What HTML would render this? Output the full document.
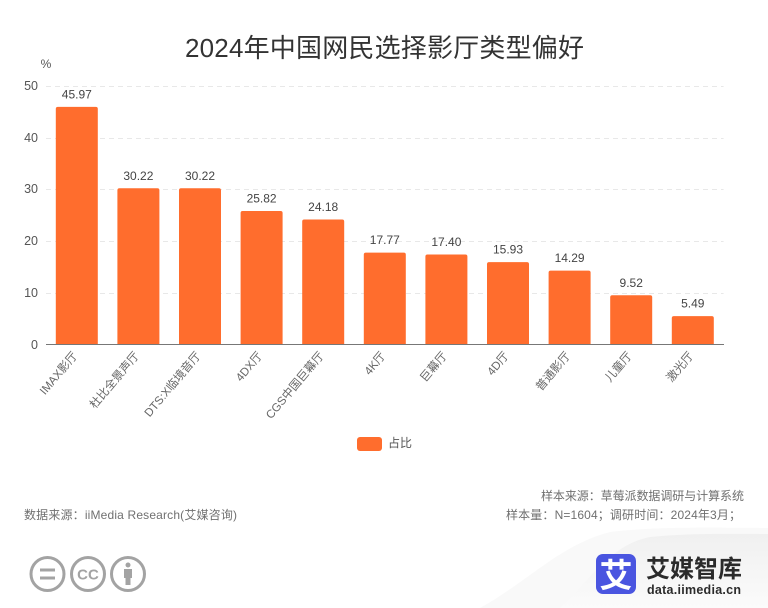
<!DOCTYPE html>
<html lang="zh">
<head>
<meta charset="utf-8">
<title>2024年中国网民选择影厅类型偏好</title>
<style>
html,body{margin:0;padding:0;background:#fff;}
body{width:768px;height:608px;overflow:hidden;}
svg{display:block;font-family:"Liberation Sans","Noto Sans CJK SC",sans-serif;}
</style>
</head>
<body>
<svg id="chart" width="768" height="608" viewBox="0 0 768 608" xmlns="http://www.w3.org/2000/svg">
  <defs>
    <linearGradient id="cornerGrad" x1="0" y1="0" x2="0" y2="1">
      <stop offset="0" stop-color="#f0f0f0"/>
      <stop offset="1" stop-color="#fbfbfb"/>
    </linearGradient>
  </defs>
  <path d="M480 608 C530 580 560 545 610 532 C660 526 720 528 768 528 L768 608 Z" fill="#f9f9f9"/>
  <path d="M560 608 C590 580 610 545 650 537 C690 533 730 534 768 534 L768 608 Z" fill="url(#cornerGrad)"/>

  <text x="384.5" y="57" text-anchor="middle" font-size="26" fill="#333333" textLength="399">2024年中国网民选择影厅类型偏好</text>
  <text x="46" y="68" text-anchor="middle" font-size="12" fill="#555555">%</text>

  <g id="grid"></g>
  <g id="yticks"></g>
  <g id="bars"></g>
  <line x1="46" y1="344.5" x2="724" y2="344.5" stroke="#777777" stroke-width="1"/>
  <g id="xlabels"></g>

  <g>
    <rect x="357" y="437" width="25" height="14" rx="3" fill="#ff6d2d"/>
    <text x="388" y="447" font-size="12" fill="#555555">占比</text>
  </g>

  <text x="24" y="519" font-size="12" fill="#707070" textLength="213">数据来源：iiMedia Research(艾媒咨询)</text>
  <text x="541" y="500" font-size="12" fill="#707070" textLength="203">样本来源：草莓派数据调研与计算系统</text>
  <text x="506" y="519" font-size="12" fill="#707070" textLength="235">样本量：N=1604；调研时间：2024年3月；</text>

  <g fill="none" stroke="#a3a3a3" stroke-width="3">
    <g>
      <circle cx="47.5" cy="574" r="16.5"/>
      <line x1="40" y1="570" x2="55" y2="570"/>
      <line x1="40" y1="578" x2="55" y2="578"/>
    </g>
    <g>
      <circle cx="88" cy="574" r="16.5"/>
      <text x="88" y="579.5" text-anchor="middle" font-size="15" font-weight="bold" fill="#a3a3a3" stroke="none">CC</text>
    </g>
    <g>
      <circle cx="128" cy="574" r="16.5"/>
      <circle cx="128" cy="565" r="2.5" fill="#a3a3a3" stroke="none"/>
      <path d="M124 569 H132 V578 H130.5 V585 H125.5 V578 H124 Z" fill="#a3a3a3" stroke="none"/>
    </g>
  </g>

  <g>
    <rect x="596" y="554" width="40" height="40" rx="7" fill="#4a55e0"/>
    <text x="616" y="587" text-anchor="middle" font-size="33" font-weight="bold" fill="#ffffff">艾</text>
    <text x="646" y="577" font-size="24" font-weight="bold" fill="#2b2b2b" textLength="96">艾媒智库</text>
    <text x="647" y="594" font-size="12.5" font-weight="bold" fill="#2b2b2b" textLength="94">data.iimedia.cn</text>
  </g>
</svg>
<script>
const categories = ["IMAX影厅", "杜比全景声厅", "DTS:X临境音厅", "4DX厅", "CGS中国巨幕厅", "4K厅", "巨幕厅", "4D厅", "普通影厅", "儿童厅", "激光厅"];
const shareValues = [45.97, 30.22, 30.22, 25.82, 24.18, 17.77, 17.40, 15.93, 14.29, 9.52, 5.49];
const yTickValues = [0, 10, 20, 30, 40, 50];

const NS = 'http://www.w3.org/2000/svg';
const plotLeft = 46, plotRight = 723.6, plotBottom = 344.5, plotTop = 86;
const yMax = 50;
const barWidth = 42;
const yScale = v => plotBottom - (v / yMax) * (plotBottom - plotTop);
const xCenter = i => plotLeft + (i + 0.5) * (plotRight - plotLeft) / categories.length;

function make(tag, attrs, text) {
  const el = document.createElementNS(NS, tag);
  for (const k in attrs) el.setAttribute(k, attrs[k]);
  if (text !== undefined) el.textContent = text;
  return el;
}

const gridG = document.getElementById('grid');
const yG = document.getElementById('yticks');
yTickValues.forEach(t => {
  const y = Math.round(yScale(t)) + 0.5;
  if (t !== 0) {
    const line = make('line', {x1: plotLeft, x2: plotRight, y1: y, y2: y, stroke: '#e8e8e8', 'stroke-dasharray': '5 4'});
    
    
    gridG.appendChild(line);
  }
  const label = make('text', {x: 38, y: y + 3.5, 'text-anchor': 'end', 'font-size': 12.5, fill: '#555555'}, t);
  
  
  yG.appendChild(label);
});

const barsG = document.getElementById('bars');
const xG = document.getElementById('xlabels');
categories.forEach((c, i) => {
  const cx = xCenter(i);
  const v = shareValues[i];
  const top = yScale(v);
  const bar = make('path', {
    d: `M${cx - barWidth / 2} ${plotBottom} V${top + 2} Q${cx - barWidth / 2} ${top} ${cx - barWidth / 2 + 2} ${top} H${cx + barWidth / 2 - 2} Q${cx + barWidth / 2} ${top} ${cx + barWidth / 2} ${top + 2} V${plotBottom} Z`,
    fill: '#ff6d2d'
  });
  
  
  barsG.appendChild(bar);

  const valueLabel = make('text', {x: cx, y: top - 8.5, 'text-anchor': 'middle', 'font-size': 12, fill: '#444444'}, v.toFixed(2));
  
  
  barsG.appendChild(valueLabel);

  const lx = cx - 1, ly = 354;
  const catLabel = make('text', {x: lx, y: ly, 'text-anchor': 'end', 'font-size': 11.6, fill: '#666666', transform: `rotate(-50 ${lx} ${ly})`, 'dominant-baseline': 'middle'}, c);
  
  
  xG.appendChild(catLabel);
});
</script>
</body>
</html>
